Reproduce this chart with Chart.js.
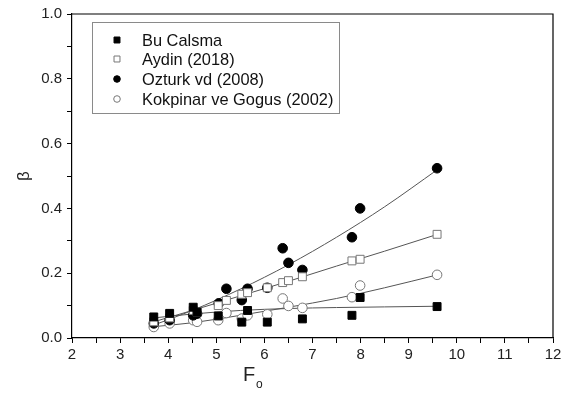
<!DOCTYPE html>
<html>
<head>
<meta charset="utf-8">
<script src="https://cdn.jsdelivr.net/npm/chart.js@4/dist/chart.umd.min.js"></script>
<style>
  body { margin: 0; background: #fff; }
  canvas { display: block; }
</style>
</head>
<body>
<canvas id="fig" width="566" height="396"></canvas>
<script>
// measured points (Fo, beta)
var buFo = [3.7, 4.03, 4.52, 4.6, 5.04, 5.53, 5.65, 6.06, 6.79, 7.82, 7.99, 9.59];
var buB = [0.065, 0.076, 0.095, 0.08, 0.068, 0.049, 0.085, 0.049, 0.059, 0.07, 0.125, 0.097];

var aydinFo = [3.7, 4.03, 4.52, 4.6, 5.04, 5.21, 5.53, 5.65, 6.06, 6.38, 6.5, 6.79, 7.82, 7.99, 9.59];
var aydinB = [0.05, 0.062, 0.085, 0.08, 0.1, 0.116, 0.135, 0.14, 0.155, 0.171, 0.177, 0.189, 0.238, 0.243, 0.32];

var ozturkFo = [3.7, 4.03, 4.52, 4.6, 5.05, 5.21, 5.53, 5.65, 6.06, 6.38, 6.5, 6.79, 7.82, 7.99, 9.59];
var ozturkB = [0.045, 0.055, 0.07, 0.075, 0.107, 0.152, 0.117, 0.152, 0.155, 0.277, 0.232, 0.21, 0.311, 0.4, 0.524];

var kokFo = [3.7, 4.03, 4.52, 4.6, 5.04, 5.21, 5.53, 5.65, 6.06, 6.38, 6.5, 6.79, 7.82, 7.99, 9.59];
var kokB = [0.034, 0.045, 0.055, 0.05, 0.055, 0.077, 0.06, 0.07, 0.073, 0.122, 0.099, 0.093, 0.126, 0.162, 0.195];

// fitted curves
var fitFo = [3.7, 4.5, 5.5, 6.5, 7.5, 8.5, 9.6];
var buFit = [0.062, 0.074, 0.085, 0.091, 0.094, 0.096, 0.098];
var aydinFit = [0.05, 0.085, 0.13, 0.175, 0.222, 0.268, 0.32];
var ozturkFit = [0.04, 0.085, 0.151, 0.226, 0.311, 0.405, 0.52];
var kokFit = [0.035, 0.047, 0.07, 0.095, 0.122, 0.155, 0.195];

var names = ["Bu Calsma", "Aydin (2018)", "Ozturk vd (2008)", "Kokpinar ve Gogus (2002)"];

function pts(xs, ys) {
    var out = [];
    for (var i = 0; i < xs.length; i++) out.push({x: xs[i], y: ys[i]});
    return out;
}

function fitLine(ys) {
    return {
        data: pts(fitFo, ys),
        showLine: true,
        pointRadius: 0,
        borderColor: "#555",
        borderWidth: 1,
        cubicInterpolationMode: "monotone",
        fill: false
    };
}

var FONT = "'Liberation Sans', Arial, sans-serif";

var legendAndTitles = {
    id: "legendAndTitles",
    afterDraw: function(chart) {
        var c = chart.ctx;
        var a = chart.chartArea;
        c.save();
        // frame top/right
        c.strokeStyle = "#000";
        c.lineWidth = 1.2;
        c.beginPath();
        c.moveTo(a.left, a.top);
        c.lineTo(a.right, a.top);
        c.lineTo(a.right, a.bottom);
        c.stroke();

        // legend box
        c.strokeStyle = "#8a8a8a";
        c.lineWidth = 1;
        c.strokeRect(92.5, 22.5, 247, 91);
        c.font = "16.4px " + FONT;
        c.textBaseline = "middle";
        var rows = [40, 59, 79, 99];
        for (var i = 0; i < 4; i++) {
            var ds = chart.data.datasets[i];
            c.fillStyle = ds.backgroundColor;
            c.strokeStyle = ds.borderColor;
            c.lineWidth = 1;
            Chart.helpers.drawPoint(c, {
                pointStyle: ds.pointStyle,
                radius: ds.pointStyle === "rect" ? 4.2 : 3.3,
                borderWidth: 1
            }, 117, rows[i]);
            c.fillStyle = "#111";
            c.fillText(names[i], 142, rows[i] + 1);
        }

        // axis titles
        c.fillStyle = "#222";
        c.font = "17px " + FONT;
        c.save();
        c.translate(24, 176);
        c.rotate(-Math.PI / 2);
        c.textAlign = "center";
        c.fillText("\u03b2", 0, 0);
        c.restore();
        c.font = "20px " + FONT;
        c.textAlign = "left";
        c.fillText("F", 243, 375);
        c.font = "12px " + FONT;
        c.fillText("o", 256, 385);
        c.restore();
    }
};

new Chart(document.getElementById("fig"), {
    type: "scatter",
    data: {
        datasets: [
            {
                label: names[0], data: pts(buFo, buB),
                pointStyle: "rect", pointRadius: 5.6, backgroundColor: "#000", borderColor: "#000", borderWidth: 1
            },
            {
                label: names[1], data: pts(aydinFo, aydinB),
                pointStyle: "rect", pointRadius: 5.6, backgroundColor: "#fff", borderColor: "#777", borderWidth: 1
            },
            {
                label: names[2], data: pts(ozturkFo, ozturkB),
                pointStyle: "circle", pointRadius: 4.8, backgroundColor: "#000", borderColor: "#000", borderWidth: 1
            },
            {
                label: names[3], data: pts(kokFo, kokB),
                pointStyle: "circle", pointRadius: 4.8, backgroundColor: "#fff", borderColor: "#777", borderWidth: 1
            },
            fitLine(buFit),
            fitLine(aydinFit),
            fitLine(ozturkFit),
            fitLine(kokFit)
        ]
    },
    options: {
        responsive: false,
        animation: false,
        layout: { padding: { top: 10, right: 13, left: 0, bottom: 0 } },
        plugins: {
            legend: { display: false },
            tooltip: { enabled: false }
        },
        scales: {
            x: {
                type: "linear",
                min: 2, max: 12,
                afterFit: function(s) { s.height = 58; },
                ticks: {
                    stepSize: 0.5,
                    autoSkip: false,
                    maxRotation: 0,
                    padding: 3,
                    color: "#222",
                    font: { family: FONT, size: 15 },
                    callback: function(v) { return Number.isInteger(v) ? String(v) : ""; }
                },
                grid: { drawOnChartArea: false, tickLength: 5, tickColor: "#000", tickWidth: 1 },
                border: { color: "#000", width: 1.2 }
            },
            y: {
                min: 0, max: 1,
                afterFit: function(s) { s.width = 72; },
                ticks: {
                    stepSize: 0.1,
                    autoSkip: false,
                    padding: 5,
                    color: "#222",
                    font: { family: FONT, size: 15 },
                    callback: function(v) {
                        var k = Math.round(v * 10);
                        return k % 2 === 0 ? (k / 10).toFixed(1) : "";
                    }
                },
                grid: { drawOnChartArea: false, tickLength: 5, tickColor: "#000", tickWidth: 1 },
                border: { color: "#000", width: 1.2 }
            }
        }
    },
    plugins: [legendAndTitles]
});
</script>
</body>
</html>
